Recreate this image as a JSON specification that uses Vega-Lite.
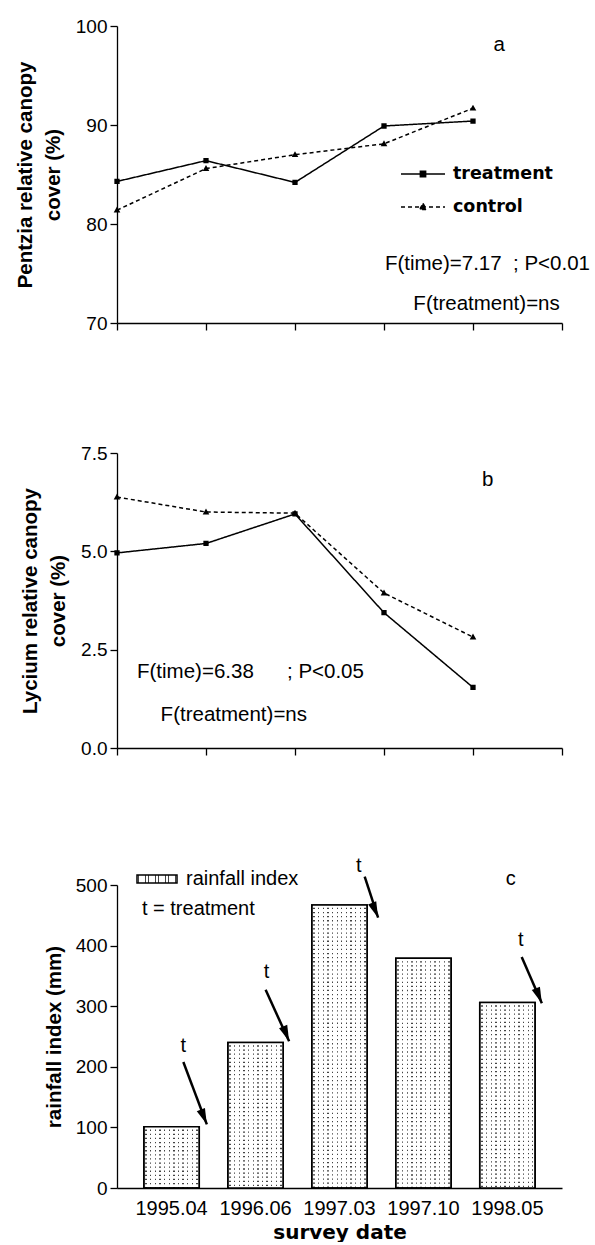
{
  "$schema": "https://vega.github.io/schema/vega-lite/v6.json",
  "background": "white",
  "padding": {"left": 15, "top": 17, "right": 5, "bottom": 0},
  "config": {
    "view": {"stroke": null},
    "font": "Liberation Sans",
    "axis": {
      "grid": false,
      "zindex": 1,
      "domainColor": "black",
      "domainWidth": 1.3,
      "tickColor": "black",
      "tickWidth": 1.3,
      "tickSize": 7,
      "labelColor": "black",
      "labelFont": "Liberation Sans",
      "labelFontSize": 19,
      "labelPadding": 3,
      "titleColor": "black",
      "titleFont": "Liberation Sans",
      "titleFontSize": 20.5,
      "titleFontWeight": "bold",
      "titleLineHeight": 28,
      "titlePadding": 12
    },
    "text": {"font": "Liberation Sans", "fontSize": 20.5, "color": "black", "align": "left", "baseline": "middle"}
  },
  "datasets": {
    "pentzia": [
      {"survey": 1, "date": "1995.04", "group": "treatment", "cover": 84.3},
      {"survey": 2, "date": "1996.06", "group": "treatment", "cover": 86.4},
      {"survey": 3, "date": "1997.03", "group": "treatment", "cover": 84.2},
      {"survey": 4, "date": "1997.10", "group": "treatment", "cover": 89.9},
      {"survey": 5, "date": "1998.05", "group": "treatment", "cover": 90.4},
      {"survey": 1, "date": "1995.04", "group": "control", "cover": 81.4},
      {"survey": 2, "date": "1996.06", "group": "control", "cover": 85.6},
      {"survey": 3, "date": "1997.03", "group": "control", "cover": 87.0},
      {"survey": 4, "date": "1997.10", "group": "control", "cover": 88.1},
      {"survey": 5, "date": "1998.05", "group": "control", "cover": 91.7}
    ],
    "lycium": [
      {"survey": 1, "date": "1995.04", "group": "treatment", "cover": 4.96},
      {"survey": 2, "date": "1996.06", "group": "treatment", "cover": 5.2},
      {"survey": 3, "date": "1997.03", "group": "treatment", "cover": 5.95},
      {"survey": 4, "date": "1997.10", "group": "treatment", "cover": 3.44},
      {"survey": 5, "date": "1998.05", "group": "treatment", "cover": 1.54},
      {"survey": 1, "date": "1995.04", "group": "control", "cover": 6.38},
      {"survey": 2, "date": "1996.06", "group": "control", "cover": 6.0},
      {"survey": 3, "date": "1997.03", "group": "control", "cover": 5.97},
      {"survey": 4, "date": "1997.10", "group": "control", "cover": 3.94},
      {"survey": 5, "date": "1998.05", "group": "control", "cover": 2.82}
    ],
    "rainfall": [
      {"survey": 1, "date": "1995.04", "rain": 101},
      {"survey": 2, "date": "1996.06", "rain": 240},
      {"survey": 3, "date": "1997.03", "rain": 467},
      {"survey": 4, "date": "1997.10", "rain": 379},
      {"survey": 5, "date": "1998.05", "rain": 306}
    ],
    "treatments": [
      {"date": "1995.04", "tx": 1.14, "ty": 234, "x0": 1.14, "y0": 208, "x1": 1.42, "y1": 105},
      {"date": "1996.06", "tx": 2.13, "ty": 356, "x0": 2.12, "y0": 327, "x1": 2.40, "y1": 242},
      {"date": "1997.03", "tx": 3.23, "ty": 531, "x0": 3.30, "y0": 514, "x1": 3.46, "y1": 446},
      {"date": "1998.05", "tx": 5.16, "ty": 409, "x0": 5.17, "y0": 381, "x1": 5.41, "y1": 305}
    ]
  },
  "spacing": 130,
  "bounds": "flush",
  "resolve": {"legend": {"stroke": "independent", "strokeDash": "independent", "shape": "independent"}},
  "vconcat": [
    {
      "width": 445,
      "height": 297,
      "layer": [
        {
          "data": {"name": "pentzia"},
          "mark": {"type": "line", "color": "black", "strokeWidth": 1.5},
          "encoding": {
            "x": {"field": "survey", "type": "quantitative", "scale": {"domain": [1, 6], "nice": false},
                  "axis": {"values": [1, 2, 3, 4, 5, 6], "labels": false, "title": null}},
            "y": {"field": "cover", "type": "quantitative", "scale": {"domain": [70, 100], "nice": false},
                  "axis": {"values": [70, 80, 90, 100], "title": ["Pentzia relative canopy", "cover (%)"]}},
            "strokeDash": {
              "field": "group", "type": "nominal",
              "scale": {"domain": ["treatment", "control"], "range": [[1, 0], [4, 3]]},
              "legend": {
                "orient": "none", "legendX": 283, "legendY": 125, "title": null, "padding": 0,
                "symbolSize": 1936, "symbolStrokeColor": "black", "symbolFillColor": "black", "symbolStrokeWidth": 1.5,
                "labelFont": "DejaVu Sans", "labelFontWeight": "bold", "labelFontSize": 17.5,
                "labelColor": "black", "labelOffset": 7, "rowPadding": 1
              }
            }
          }
        },
        {
          "data": {"name": "pentzia"},
          "mark": {"type": "point", "filled": true, "color": "black", "opacity": 1, "size": 1936},
          "encoding": {
            "x": {"field": "survey", "type": "quantitative"},
            "y": {"field": "cover", "type": "quantitative"},
            "shape": {"field": "group", "type": "nominal",
                      "scale": {"domain": ["treatment", "control"],
                                "range": ["M-1,0H1M-0.12,-0.12H0.12V0.12H-0.12Z", "M-1,0H1M0,-0.16L0.15,0.11L-0.15,0.11Z"]},
                      "legend": null}
          }
        },
        {
          "data": {"values": [
            {"survey": 5.23, "cover": 98.1, "note": "a"},
            {"survey": 4.01, "cover": 76.0, "note": "F(time)=7.17\u00a0\u00a0; P<0.01"},
            {"survey": 4.33, "cover": 71.9, "note": "F(treatment)=ns"}
          ]},
          "mark": {"type": "text"},
          "encoding": {
            "x": {"field": "survey", "type": "quantitative"},
            "y": {"field": "cover", "type": "quantitative"},
            "text": {"field": "note"}
          }
        }
      ]
    },
    {
      "width": 445,
      "height": 295,
      "layer": [
        {
          "data": {"name": "lycium"},
          "mark": {"type": "line", "color": "black", "strokeWidth": 1.5},
          "encoding": {
            "x": {"field": "survey", "type": "quantitative", "scale": {"domain": [1, 6], "nice": false},
                  "axis": {"values": [1, 2, 3, 4, 5, 6], "labels": false, "title": null}},
            "y": {"field": "cover", "type": "quantitative", "scale": {"domain": [0, 7.5], "nice": false},
                  "axis": {"values": [0, 2.5, 5, 7.5], "format": ".1f", "title": ["Lycium relative canopy", "cover (%)"]}},
            "strokeDash": {"field": "group", "type": "nominal", "legend": null}
          }
        },
        {
          "data": {"name": "lycium"},
          "mark": {"type": "point", "filled": true, "color": "black", "opacity": 1, "size": 1936},
          "encoding": {
            "x": {"field": "survey", "type": "quantitative"},
            "y": {"field": "cover", "type": "quantitative"},
            "shape": {"field": "group", "type": "nominal", "legend": null}
          }
        },
        {
          "data": {"values": [
            {"survey": 5.10, "cover": 6.81, "note": "b"},
            {"survey": 1.225, "cover": 1.92, "note": "F(time)=6.38"},
            {"survey": 2.91, "cover": 1.92, "note": "; P<0.05"},
            {"survey": 1.49, "cover": 0.83, "note": "F(treatment)=ns"}
          ]},
          "mark": {"type": "text"},
          "encoding": {
            "x": {"field": "survey", "type": "quantitative"},
            "y": {"field": "cover", "type": "quantitative"},
            "text": {"field": "note"}
          }
        }
      ]
    },
    {
      "width": 445,
      "height": 310,
      "resolve": {"scale": {"x": "independent"}},
      "layer": [
        {
          "data": {"name": "rainfall"},
          "encoding": {
            "x": {"field": "date", "type": "ordinal", "sort": null,
                  "scale": {"type": "band", "paddingInner": 0.34, "paddingOuter": 0.32},
                  "axis": {"ticks": false, "labelAngle": 0, "labelFontSize": 20, "labelPadding": 10,
                           "title": "survey date", "titleFont": "DejaVu Sans", "titleFontSize": 20,
                           "titleFontWeight": "bold", "titlePadding": 4}},
            "y": {"field": "rain", "type": "quantitative", "scale": {"domain": [0, 500], "range": [310, 7], "nice": false},
                  "axis": {"values": [0, 100, 200, 300, 400, 500], "title": "rainfall index (mm)", "titlePadding": 11}}
          },
          "layer": [
            {
              "mark": {
                "type": "bar",
                "strokeWidth": 1.5,
                "fill": {
                  "gradient": "linear", "x1": 0, "y1": 0, "x2": 1, "y2": 0,
                  "stops": [
                    {"offset": 0, "color": "white"},
                    {"offset": 0.029, "color": "white"}, {"offset": 0.029, "color": "#444"}, {"offset": 0.054, "color": "#444"}, {"offset": 0.054, "color": "white"},
                    {"offset": 0.113, "color": "white"}, {"offset": 0.113, "color": "#444"}, {"offset": 0.137, "color": "#444"}, {"offset": 0.137, "color": "white"},
                    {"offset": 0.196, "color": "white"}, {"offset": 0.196, "color": "#444"}, {"offset": 0.220, "color": "#444"}, {"offset": 0.220, "color": "white"},
                    {"offset": 0.279, "color": "white"}, {"offset": 0.279, "color": "#444"}, {"offset": 0.304, "color": "#444"}, {"offset": 0.304, "color": "white"},
                    {"offset": 0.363, "color": "white"}, {"offset": 0.363, "color": "#444"}, {"offset": 0.387, "color": "#444"}, {"offset": 0.387, "color": "white"},
                    {"offset": 0.446, "color": "white"}, {"offset": 0.446, "color": "#444"}, {"offset": 0.470, "color": "#444"}, {"offset": 0.470, "color": "white"},
                    {"offset": 0.529, "color": "white"}, {"offset": 0.529, "color": "#444"}, {"offset": 0.554, "color": "#444"}, {"offset": 0.554, "color": "white"},
                    {"offset": 0.613, "color": "white"}, {"offset": 0.613, "color": "#444"}, {"offset": 0.637, "color": "#444"}, {"offset": 0.637, "color": "white"},
                    {"offset": 0.696, "color": "white"}, {"offset": 0.696, "color": "#444"}, {"offset": 0.720, "color": "#444"}, {"offset": 0.720, "color": "white"},
                    {"offset": 0.779, "color": "white"}, {"offset": 0.779, "color": "#444"}, {"offset": 0.804, "color": "#444"}, {"offset": 0.804, "color": "white"},
                    {"offset": 0.863, "color": "white"}, {"offset": 0.863, "color": "#444"}, {"offset": 0.887, "color": "#444"}, {"offset": 0.887, "color": "white"},
                    {"offset": 0.946, "color": "white"}, {"offset": 0.946, "color": "#444"}, {"offset": 0.970, "color": "#444"}, {"offset": 0.970, "color": "white"},
                    {"offset": 1, "color": "white"}
                  ]
                }
              },
              "encoding": {
                "stroke": {
                  "datum": "rainfall index", "type": "nominal",
                  "scale": {"range": ["black"]},
                  "legend": {
                    "orient": "none", "legendX": 19, "legendY": -20, "title": null, "padding": 0,
                    "symbolType": "M-1,-0.2H1V0.2H-1Z", "symbolSize": 1600, "symbolStrokeWidth": 1.5,
                    "labelFont": "Liberation Sans", "labelFontSize": 20, "labelColor": "black", "labelOffset": 8
                  }
                }
              }
            },
            {
              "mark": {"type": "rule", "color": "white", "strokeWidth": 53, "strokeDash": [2.8, 1.3]},
              "encoding": {"y2": {"datum": 0}}
            },
            {
              "mark": {"type": "bar", "fillOpacity": 0, "stroke": "black", "strokeWidth": 1.5}
            }
          ]
        },
        {
          "data": {"name": "treatments"},
          "layer": [
            {
              "mark": {"type": "rule", "color": "black", "strokeWidth": 2.5},
              "encoding": {
                "x": {"field": "x0", "type": "quantitative", "scale": {"domain": [0.35, 5.65], "nice": false}, "axis": null},
                "y": {"field": "y0", "type": "quantitative"},
                "x2": {"field": "x1"},
                "y2": {"field": "y1"}
              }
            },
            {
              "mark": {"type": "point", "filled": true, "color": "black", "opacity": 1, "size": 256, "angle": 338,
                       "shape": "M0,0L-0.55,-2L0.55,-2Z"},
              "encoding": {
                "x": {"field": "x1", "type": "quantitative"},
                "y": {"field": "y1", "type": "quantitative"}
              }
            },
            {
              "mark": {"type": "text", "fontSize": 20, "align": "center"},
              "encoding": {
                "x": {"field": "tx", "type": "quantitative"},
                "y": {"field": "ty", "type": "quantitative"},
                "text": {"value": "t"}
              }
            },
            {
              "data": {"values": [
                {"tx": 0.647, "ty": 460, "note": "t = treatment"},
                {"tx": 4.98, "ty": 510, "note": "c"}
              ]},
              "mark": {"type": "text", "fontSize": 20},
              "encoding": {
                "x": {"field": "tx", "type": "quantitative"},
                "y": {"field": "ty", "type": "quantitative"},
                "text": {"field": "note"}
              }
            }
          ]
        }
      ]
    }
  ]
}
